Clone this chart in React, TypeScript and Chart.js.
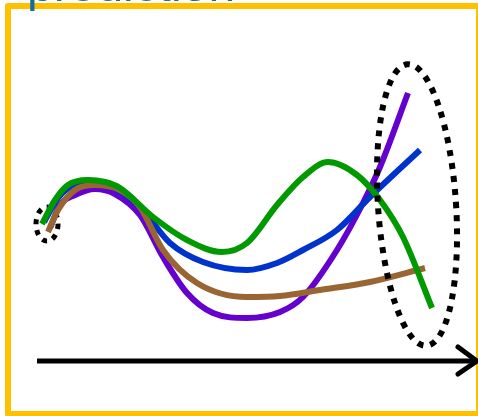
import React, { useEffect, useRef } from "react";
import { Chart, registerables } from "chart.js";

Chart.register(...registerables);

// Units: x = distance along the horizontal axis, y = height above the axis
const greenX = [5, 18, 31, 51, 68, 83, 116, 150, 185, 210, 240, 266, 291, 320, 343, 366, 395];
const greenY = [137, 161, 176, 181, 179, 173, 144, 121, 109, 118, 156, 184, 199, 186, 161, 124, 53];

const blueX = [7, 21, 35, 51, 73, 103, 133, 166, 210, 240, 266, 300, 333, 383];
const blueY = [139, 163, 175, 179, 175, 154, 118, 99, 91, 98, 111, 131, 164, 211];

const purpleX = [13, 23, 38, 58, 78, 103, 126, 150, 176, 210, 243, 266, 300, 326, 343, 371];
const purpleY = [133, 156, 166, 172, 167, 146, 104, 68, 48, 43, 49, 64, 111, 158, 194, 268];

const brownX = [11, 21, 38, 58, 83, 103, 126, 160, 210, 243, 283, 333, 388];
const brownY = [129, 151, 171, 176, 171, 154, 111, 78, 64, 65, 71, 79, 93];

const axisX = [0, 440];
const axisY = [0, 0];
const arrowX = [421, 440, 421];
const arrowY = [14, 0, -13];

// ellipses: [centerX, centerY, radiusX, radiusY, rotation]
const smallEllipse = [10, 137, 11, 17, 0];
const bigEllipse = [380, 156, 39, 141, -0.067];

const titleText = "prediction";

const pts = (xs: number[], ys: number[]) => xs.map((x, i) => ({ x, y: ys[i] }));

function drawEllipse(chart: any, e: number[], width: number, dash: number[]) {
  const { ctx, scales } = chart;
  const cx = scales.x.getPixelForValue(e[0]);
  const cy = scales.y.getPixelForValue(e[1]);
  const rx = Math.abs(scales.x.getPixelForValue(e[0] + e[2]) - cx);
  const ry = Math.abs(scales.y.getPixelForValue(e[1] + e[3]) - cy);
  ctx.save();
  ctx.strokeStyle = "#000000";
  ctx.lineWidth = width;
  ctx.setLineDash(dash);
  ctx.lineCap = "butt";
  ctx.beginPath();
  ctx.ellipse(cx, cy, rx, ry, e[4], 0, Math.PI * 2);
  ctx.stroke();
  ctx.restore();
}

const decorPlugin = {
  id: "decor",
  beforeDatasetsDraw(chart: any) {
    const { ctx } = chart;
    ctx.save();
    ctx.fillStyle = "#ffffff";
    ctx.fillRect(0, 0, chart.width, chart.height);
    // frame
    ctx.strokeStyle = "#ffc000";
    ctx.lineWidth = 6;
    ctx.lineJoin = "round";
    ctx.strokeRect(8, 6, 471, 408);
    // title (cut off at the top)
    ctx.fillStyle = "#1b6c95";
    ctx.font = "48px 'Liberation Sans', Arial, sans-serif";
    ctx.textBaseline = "alphabetic";
    ctx.fillText(titleText, 27, 1);
    ctx.restore();
    drawEllipse(chart, smallEllipse, 5, [5, 6]);
  },
  afterDatasetsDraw(chart: any) {
    drawEllipse(chart, bigEllipse, 6, [6, 7]);
  },
};

export default function App() {
  const ref = useRef<HTMLCanvasElement | null>(null);
  useEffect(() => {
    if (!ref.current) return;
    const lineDs = (label: string, data: any[], color: string, order: number) => ({
      label,
      data,
      borderColor: color,
      backgroundColor: color,
      borderWidth: 6,
      pointRadius: 0,
      cubicInterpolationMode: "monotone" as const,
      fill: false,
      order,
      borderCapStyle: "butt" as const,
    });
    const chart = new Chart(ref.current, {
      type: "line",
      data: {
        datasets: [
          { ...lineDs("axis", pts(axisX, axisY), "#000000", 0), borderWidth: 5, cubicInterpolationMode: "default" as const, tension: 0 },
          { ...lineDs("arrow", pts(arrowX, arrowY), "#000000", 0), borderWidth: 5, cubicInterpolationMode: "default" as const, tension: 0, borderCapStyle: "round" as const, borderJoinStyle: "miter" as const },
          lineDs("green", pts(greenX, greenY), "#009900", 1),
          lineDs("brown", pts(brownX, brownY), "#996633", 2),
          lineDs("blue", pts(blueX, blueY), "#0033cc", 3),
          lineDs("purple", pts(purpleX, purpleY), "#6600cc", 4),
        ],
      },
      options: {
        animation: false,
        responsive: false,
        devicePixelRatio: 1,
        layout: { padding: 0 },
        plugins: { legend: { display: false }, tooltip: { enabled: false }, title: { display: false } },
        scales: {
          x: { type: "linear", min: -37, max: 441, display: false },
          y: { type: "linear", min: -55, max: 361, display: false },
        },
      },
      plugins: [decorPlugin],
    });
    return () => chart.destroy();
  }, []);
  return (
    <div style={{ position: "fixed", left: 0, top: 0, width: 478, height: 416, overflow: "hidden", background: "#fff" }}>
      <canvas ref={ref} width={478} height={416} style={{ display: "block" }} />
    </div>
  );
}
